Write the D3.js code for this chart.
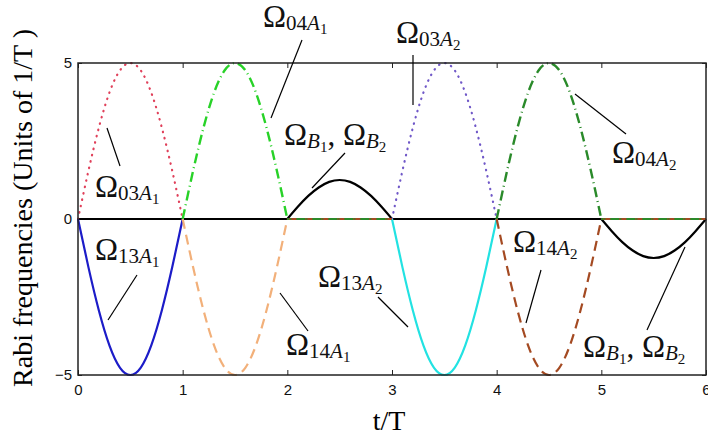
<!DOCTYPE html>
<html><head><meta charset="utf-8">
<script src="https://cdn.jsdelivr.net/npm/d3@7"></script>
<style>body{margin:0;background:#fff}svg{display:block}</style>
</head><body><svg id="c" width="708" height="438"></svg>
<script>
// ---- data ----
const xTicks = [0,1,2,3,4,5,6];
const yTicks = [-5,0,5];
const xLabel = "t/T";
const yLabel = "Rabi frequencies (Units of 1/T )";
// phase within one interval of length T
const phase = [0,0.1,0.2,0.3,0.4,0.5,0.6,0.7,0.8,0.9,1.0];
const omega03A1 = {start:0, values:[0,1.55,2.94,4.05,4.76,5,4.76,4.05,2.94,1.55,0]};
const omega13A1 = {start:0, values:[0,-1.55,-2.94,-4.05,-4.76,-5,-4.76,-4.05,-2.94,-1.55,0]};
const omega04A1 = {start:1, values:[0,1.55,2.94,4.05,4.76,5,4.76,4.05,2.94,1.55,0]};
const omega14A1 = {start:1, values:[0,-1.55,-2.94,-4.05,-4.76,-5,-4.76,-4.05,-2.94,-1.55,0]};
const omegaB1   = {start:2, values:[0,0.39,0.74,1.01,1.19,1.25,1.19,1.01,0.74,0.39,0]};
const omega03A2 = {start:3, values:[0,1.55,2.94,4.05,4.76,5,4.76,4.05,2.94,1.55,0]};
const omega13A2 = {start:3, values:[0,-1.55,-2.94,-4.05,-4.76,-5,-4.76,-4.05,-2.94,-1.55,0]};
const omega04A2 = {start:4, values:[0,1.55,2.94,4.05,4.76,5,4.76,4.05,2.94,1.55,0]};
const omega14A2 = {start:4, values:[0,-1.55,-2.94,-4.05,-4.76,-5,-4.76,-4.05,-2.94,-1.55,0]};
const omegaB2   = {start:5, values:[0,-0.39,-0.74,-1.01,-1.19,-1.25,-1.19,-1.01,-0.74,-0.39,0]};
// zero baseline segments (t, value)
const zeroBlack = [[0,0],[6,0]];
const zeroA2a = [[2,0],[3,0]];
const zeroA2b = [[5,0],[6,0]];

// ---- layout ----
const svg = d3.select("#c");
const L=78, R=706, T=63, B=375;
const x = d3.scaleLinear().domain([0,6]).range([L,R]);
const y = d3.scaleLinear().domain([-5,5]).range([B,T]);
const toPts = s => phase.map((p,i)=>[s.start+p, s.values[i]]);

const line = d3.line().x(d=>x(d[0])).y(d=>y(d[1])).curve(d3.curveNatural);
const lineStraight = d3.line().x(d=>x(d[0])).y(d=>y(d[1]));

const g = svg.append("g");

const fontSans = "'Liberation Sans', Arial, sans-serif";
const fontSerif = "'Liberation Serif', 'Times New Roman', serif";

const ax = g.append("g").attr("transform",`translate(0,${B})`)
  .call(d3.axisBottom(x).tickValues(xTicks).tickSize(-5).tickPadding(9).tickFormat(d3.format("d")));
const axT = g.append("g").attr("transform",`translate(0,${T})`)
  .call(d3.axisTop(x).tickValues(xTicks).tickSize(-5).tickFormat(""));
const ay = g.append("g").attr("transform",`translate(${L},0)`)
  .call(d3.axisLeft(y).tickValues(yTicks).tickSize(-4).tickPadding(6).tickFormat(d=> d<0 ? "\u2212"+Math.abs(d) : d));
const ayR = g.append("g").attr("transform",`translate(${R},0)`)
  .call(d3.axisRight(y).tickValues(yTicks).tickSize(-4).tickFormat(""));
[ax,axT,ay,ayR].forEach(a=>{
  a.select(".domain").remove();
  a.selectAll(".tick line").attr("stroke","#222").attr("stroke-width",1);
  a.selectAll("text").attr("font-family",fontSans).attr("font-size",15).attr("fill","#111");
});

// zero line (black)
g.append("path").attr("d",lineStraight(zeroBlack)).attr("fill","none").attr("stroke","#000").attr("stroke-width",2);

const series = [
  {s:omega03A1, c:"#e0405a", dash:"0.5,6", w:2.2, cap:"round"},
  {s:omega13A1, c:"#1c1cc8", dash:null, w:2.2},
  {s:omega04A1, c:"#28d228", dash:"10,4,1,4", w:2.4},
  {s:omega14A1, c:"#f2b07a", dash:"10,6", w:2.2},
  {s:omegaB1, c:"#000", dash:null, w:2.2},
  {s:omega03A2, c:"#7058c8", dash:"0.5,6", w:2.2, cap:"round"},
  {s:omega13A2, c:"#22e2e2", dash:null, w:2.2},
  {s:omega04A2, c:"#2a8a2a", dash:"10,4,1,4", w:2.4},
  {s:omega14A2, c:"#a44a22", dash:"10,6", w:2.2},
  {s:omegaB2, c:"#000", dash:null, w:2.2}
];
series.forEach(o=>{
  g.append("path").attr("d",line(toPts(o.s))).attr("fill","none")
   .attr("stroke",o.c).attr("stroke-width",o.w)
   .attr("stroke-dasharray",o.dash).attr("stroke-linecap",o.cap||"butt");
});
[zeroA2a, zeroA2b].forEach(z=>{
  g.append("path").attr("d",lineStraight(z)).attr("fill","none").attr("stroke","#a44a22").attr("stroke-width",2).attr("stroke-dasharray","10,6");
  g.append("path").attr("d",lineStraight(z)).attr("fill","none").attr("stroke","#2a8a2a").attr("stroke-width",2).attr("stroke-dasharray","1,5,9,1").attr("stroke-dashoffset",-3);
});

// frame
g.append("rect").attr("x",L).attr("y",T).attr("width",R-L).attr("height",B-T)
  .attr("fill","none").attr("stroke","#222").attr("stroke-width",1.5);

// axis titles
svg.append("text").attr("x",389).attr("y",430).attr("text-anchor","middle")
  .attr("font-family",fontSerif).attr("font-size",28).attr("fill","#000").text(xLabel);
svg.append("text").attr("transform","translate(32,208) rotate(-90)").attr("text-anchor","middle")
  .attr("font-family",fontSerif).attr("font-size",28).attr("fill","#000").text(yLabel);

// annotations
const annots = [
  {parts:[["\u03A9",0],["03",1],["A",1,true],["1",2]], x:95, y:197, l:[[107,128],[120,166]]},
  {parts:[["\u03A9",0],["13",1],["A",1,true],["1",2]], x:95, y:260, l:[[137,275],[108,320]]},
  {parts:[["\u03A9",0],["04",1],["A",1,true],["1",2]], x:263, y:27, l:[[302,40],[271,118]]},
  {parts:[["\u03A9",0],["03",1],["A",1,true],["2",2]], x:396, y:43, l:[[413,55],[413,105]]},
  {parts:[["\u03A9",0],["B",1,true],["1",2],[", ",0],["\u03A9",0],["B",1,true],["2",2]], x:284, y:145, l:[[345,153],[312,188]]},
  {parts:[["\u03A9",0],["04",1],["A",1,true],["2",2]], x:612, y:163, l:[[626,134],[575,94]]},
  {parts:[["\u03A9",0],["13",1],["A",1,true],["2",2]], x:318, y:287, l:[[378,297],[408,327]]},
  {parts:[["\u03A9",0],["14",1],["A",1,true],["1",2]], x:286, y:355, l:[[280,293],[308,331]]},
  {parts:[["\u03A9",0],["14",1],["A",1,true],["2",2]], x:513, y:252, l:[[541,270],[526,323]]},
  {parts:[["\u03A9",0],["B",1,true],["1",2],[", ",0],["\u03A9",0],["B",1,true],["2",2]], x:583, y:357, l:[[685,247],[647,330]]}
];
const sizes=[31,21,15], offs=[0,3,7];
annots.forEach(a=>{
  g.append("line").attr("x1",a.l[0][0]).attr("y1",a.l[0][1]).attr("x2",a.l[1][0]).attr("y2",a.l[1][1])
    .attr("stroke","#000").attr("stroke-width",1.2);
  const t = svg.append("text").attr("x",a.x).attr("y",a.y).attr("font-family",fontSerif).attr("fill","#111");
  let cur=0;
  a.parts.forEach(p=>{
    const lvl=p[1];
    const ts=t.append("tspan").attr("font-size",sizes[lvl]).attr("dy",offs[lvl]-cur).text(p[0]);
    if(p[2]) ts.attr("font-style","italic");
    cur=offs[lvl];
  });
});
</script></body></html>
